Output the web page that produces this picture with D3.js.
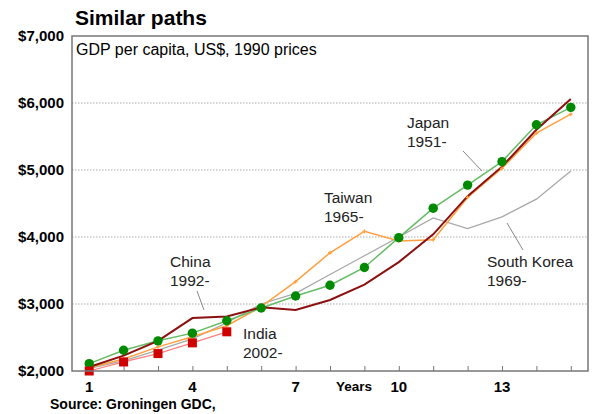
<!DOCTYPE html>
<html>
<head>
<meta charset="utf-8">
<script src="https://cdn.jsdelivr.net/npm/d3@7"></script>
<style>
  body { margin: 0; background: #fff; }
  svg { font-family: "Liberation Sans", Arial, sans-serif; }
</style>
</head>
<body>
<div class="chart"></div>
<script>
// years since start
const years = d3.range(1, 16);
const japan = [2110, 2310, 2450, 2565, 2750, 2940, 3120, 3280, 3545, 3990, 4430, 4775, 5125, 5675, 5935];
const china = [2060, 2230, 2450, 2790, 2815, 2950, 2910, 3060, 3290, 3625, 4040, 4610, 5050, 5600, 6060];
const taiwan = [2050, 2180, 2360, 2510, 2675, 2960, 3335, 3765, 4085, 3940, 3960, 4590, 5025, 5550, 5835];
const korea = [2040, 2150, 2310, 2480, 2720, 3000, 3160, 3440, 3720, 4000, 4285, 4125, 4300, 4565, 4985];
const india = [2000, 2135, 2260, 2420, 2585];
const yTicks = [2000, 3000, 4000, 5000, 6000, 7000];
const xTickLabels = [1, 4, 7, 10, 13];

let dims = { width: 592, height: 414 };
let plot = { left: 72, right: 588, top: 36, bottom: 371 };

let svg = d3.select(".chart").append("svg")
  .attr("width", dims.width)
  .attr("height", dims.height);

let x = d3.scaleLinear().domain([0.5, 15.5]).range([plot.left, plot.right]);
let y = d3.scaleLinear().domain([2000, 7000]).range([plot.bottom, plot.top]);

// gridlines
svg.append("g").selectAll("line")
  .data(yTicks.filter(d => d > 2000 && d < 7000))
  .join("line")
  .attr("x1", plot.left).attr("x2", plot.right)
  .attr("y1", d => y(d)).attr("y2", d => y(d))
  .attr("stroke", "#aaa")
  .attr("stroke-dasharray", "1.5,1.5");

// y labels
svg.append("g").selectAll("text")
  .data(yTicks)
  .join("text")
  .attr("x", 64)
  .attr("y", d => y(d) + 5)
  .attr("text-anchor", "end")
  .style("font-size", "15px")
  .style("font-weight", "bold")
  .text(d => "$" + d3.format(",")(d));

// bottom ticks pointing up
let xAxis = svg.append("g")
  .attr("transform", `translate(0, ${plot.bottom})`)
  .call(d3.axisBottom(x).tickValues(years).tickSize(-5).tickFormat(""));
xAxis.select(".domain").remove();
xAxis.selectAll("line").attr("stroke", "#777");

svg.append("g").selectAll("text")
  .data(xTickLabels)
  .join("text")
  .attr("x", d => x(d))
  .attr("y", 392)
  .attr("text-anchor", "middle")
  .style("font-size", "15px")
  .style("font-weight", "bold")
  .text(d => d);

svg.append("text")
  .attr("x", 354).attr("y", 391)
  .attr("text-anchor", "middle")
  .style("font-size", "13.5px")
  .style("font-weight", "bold")
  .text("Years");

// lines
let line = d3.line().x((d, i) => x(years[i])).y(d => y(d));

let drawLine = (data, color, width) => {
  svg.append("path")
    .datum(data)
    .attr("fill", "none")
    .attr("stroke", color)
    .attr("stroke-width", width)
    .attr("d", line);
};

drawLine(korea, "#a8a8a8", 1.3);
drawLine(india, "#ff8080", 1.2);
drawLine(taiwan, "#ffa040", 1.5);
drawLine(japan, "#66bb66", 1.5);
drawLine(china, "#8b1010", 2);

// taiwan small markers
svg.append("g").selectAll("path")
  .data(taiwan)
  .join("path")
  .attr("transform", (d, i) => `translate(${x(years[i])}, ${y(d)})`)
  .attr("d", d3.symbol(d3.symbolCross, 8))
  .attr("fill", "#ffa040");

// japan markers
svg.append("g").selectAll("circle")
  .data(japan)
  .join("circle")
  .attr("cx", (d, i) => x(years[i]))
  .attr("cy", d => y(d))
  .attr("r", 4.7)
  .attr("fill", "#008a00");

// india markers
svg.append("g").selectAll("rect")
  .data(india)
  .join("rect")
  .attr("x", (d, i) => x(years[i]) - 4.5)
  .attr("y", d => y(d) - 4.5)
  .attr("width", 9).attr("height", 9)
  .attr("fill", "#d00000");

// frame
svg.append("rect")
  .attr("x", plot.left).attr("y", plot.top)
  .attr("width", plot.right - plot.left)
  .attr("height", plot.bottom - plot.top)
  .attr("fill", "none")
  .attr("stroke", "#777")
  .attr("stroke-width", 1.5);

// labels
let labels = [
  { lines: ["China", "1992-"], x: 170, y: 267 },
  { lines: ["India", "2002-"], x: 243, y: 339 },
  { lines: ["Taiwan", "1965-"], x: 324, y: 203 },
  { lines: ["Japan", "1951-"], x: 407, y: 128 },
  { lines: ["South Korea", "1969-"], x: 487, y: 267 }
];
labels.forEach(l => {
  let t = svg.append("text")
    .attr("x", l.x).attr("y", l.y)
    .style("font-size", "15.5px")
    .attr("fill", "#222");
  l.lines.forEach((s, i) => {
    t.append("tspan").attr("x", l.x).attr("dy", i ? 19 : 0).text(s);
  });
});

// leader lines
let leaders = [
  [197, 291, 204, 310],
  [463, 151, 482, 171],
  [507, 223, 523, 250]
];
svg.append("g").selectAll("line")
  .data(leaders)
  .join("line")
  .attr("x1", d => d[0]).attr("y1", d => d[1])
  .attr("x2", d => d[2]).attr("y2", d => d[3])
  .attr("stroke", "#888")
  .attr("stroke-width", 1);

svg.append("text")
  .attr("x", 75).attr("y", 25)
  .style("font-size", "21px")
  .style("font-weight", "bold")
  .text("Similar paths");

svg.append("text")
  .attr("x", 76).attr("y", 55)
  .style("font-size", "16px")
  .text("GDP per capita, US$, 1990 prices");

svg.append("text")
  .attr("x", 50).attr("y", 409)
  .style("font-size", "14px")
  .style("font-weight", "bold")
  .text("Source: Groningen GDC,");
</script>
</body>
</html>
